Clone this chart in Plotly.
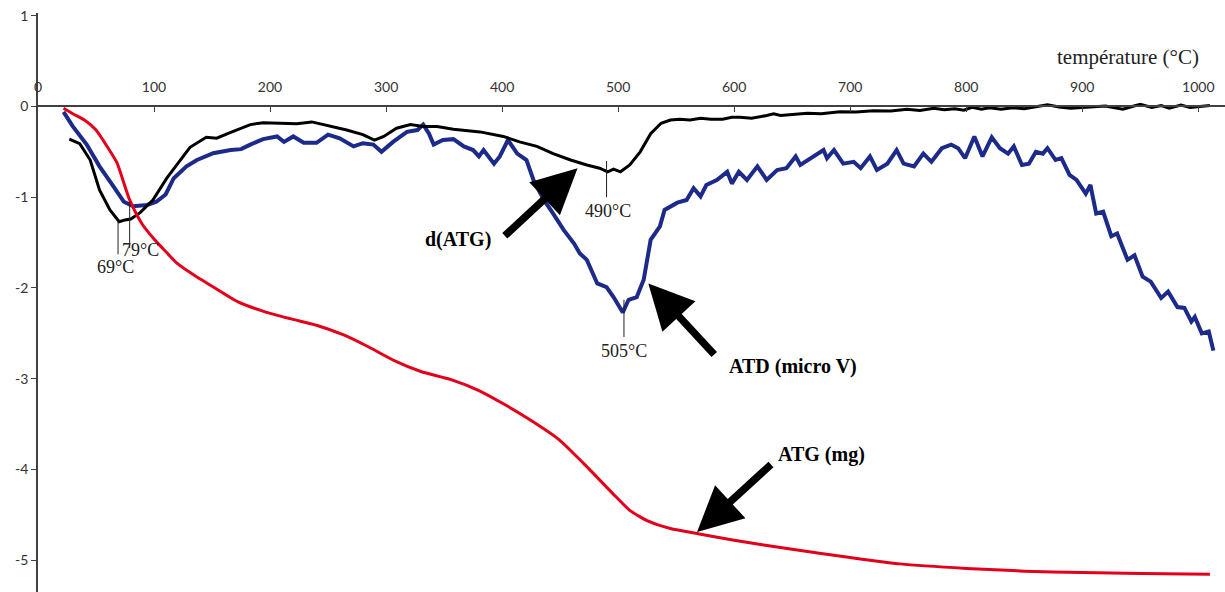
import plotly.graph_objects as go

# Temperature (°C) / signal pairs for each thermal-analysis curve
atg_temp = [22, 30, 40, 50, 60, 68, 79, 90, 100, 108, 120, 137, 150, 172, 195, 218, 240, 264, 285,
            307, 330, 356, 380, 403, 425, 449, 470, 495, 510, 526, 545, 570, 600, 650, 700, 743,
            800, 850, 900, 950, 1010]
atg_mg = [-0.02, -0.08, -0.15, -0.26, -0.45, -0.62, -1.03, -1.3, -1.46, -1.57, -1.73, -1.88, -1.98,
          -2.15, -2.26, -2.34, -2.41, -2.52, -2.65, -2.8, -2.92, -3.01, -3.13, -3.29, -3.46, -3.67,
          -3.93, -4.26, -4.45, -4.57, -4.65, -4.71, -4.78, -4.88, -4.97, -5.04, -5.09, -5.12,
          -5.135, -5.145, -5.155]

datg_temp = [27, 36, 45, 53, 62, 70, 75, 80, 88, 99, 111, 120, 131, 145, 154, 165, 183, 194, 209,
             223, 236, 252, 266, 280, 290, 298, 309, 321, 332, 344, 358, 381, 401, 415, 430, 444,
             459, 473, 484, 491, 496, 502, 510, 519, 528, 537, 545, 553, 562, 571, 580, 590, 598,
             605, 615, 628, 634, 640, 652, 663, 675, 691, 705, 720, 735, 749, 760, 772, 781, 790,
             798, 805, 813, 820, 830, 840, 850, 860, 870, 880, 890, 900, 910, 920, 928, 935, 943,
             950, 960, 968, 975, 985, 993, 1000, 1010]
datg = [-0.36, -0.41, -0.59, -0.92, -1.14, -1.27, -1.25, -1.24, -1.17, -1.03, -0.79, -0.64, -0.45,
        -0.34, -0.35, -0.29, -0.2, -0.18, -0.185, -0.19, -0.17, -0.215, -0.26, -0.31, -0.37, -0.33,
        -0.24, -0.2, -0.22, -0.22, -0.25, -0.28, -0.33, -0.39, -0.44, -0.52, -0.59, -0.645, -0.68,
        -0.72, -0.69, -0.72, -0.645, -0.5, -0.3, -0.185, -0.15, -0.14, -0.15, -0.13, -0.14, -0.14,
        -0.12, -0.12, -0.13, -0.1, -0.08, -0.1, -0.09, -0.075, -0.08, -0.057, -0.06, -0.046,
        -0.05, -0.03, -0.045, -0.02, -0.035, -0.025, -0.04, -0.01, -0.03, -0.015, -0.03, -0.015,
        -0.025, 0.0, 0.02, -0.005, -0.02, -0.01, 0.0, 0.005, -0.015, -0.03, 0.0, 0.025, -0.01,
        0.01, -0.02, 0.015, -0.01, 0.0, 0.01]

atd_temp = [22, 30, 42, 53, 65, 74, 82, 94, 102, 110, 117, 128, 137, 151, 166, 175, 183, 194, 206,
            212, 220, 229, 240, 250, 260, 272, 280, 289, 296, 306, 318, 327, 332, 337, 341, 349,
            358, 367, 375, 380, 384, 393, 398, 405, 413, 421, 427, 436, 444, 453, 462, 467, 473,
            482, 490, 496, 504, 509, 516, 522, 528, 536, 540, 551, 559, 565, 571, 576, 585, 594,
            598, 604, 611, 620, 628, 637, 645, 653, 657, 668, 677, 680, 686, 694, 703, 709, 717,
            723, 732, 740, 746, 755, 763, 770, 779, 787, 793, 799, 807, 814, 822, 829, 836, 841,
            848, 854, 860, 866, 870, 877, 882, 889, 895, 903, 907, 912, 918, 925, 930, 939, 945,
            952, 959, 968, 974, 982, 988, 994, 997, 1003, 1009, 1013]
atd = [-0.06, -0.22, -0.42, -0.66, -0.88, -1.05, -1.1, -1.085, -1.05, -0.97, -0.79, -0.66, -0.59,
       -0.515, -0.48, -0.47, -0.42, -0.36, -0.33, -0.39, -0.33, -0.4, -0.4, -0.31, -0.35, -0.44,
       -0.405, -0.42, -0.5, -0.39, -0.28, -0.26, -0.2, -0.3, -0.42, -0.37, -0.36, -0.44, -0.48,
       -0.55, -0.48, -0.63, -0.55, -0.37, -0.52, -0.59, -0.81, -1.03, -1.18, -1.36, -1.51, -1.62,
       -1.69, -1.95, -1.99, -2.1, -2.27, -2.13, -2.1, -1.91, -1.47, -1.32, -1.14, -1.06, -1.03,
       -0.9, -0.99, -0.865, -0.81, -0.72, -0.85, -0.72, -0.81, -0.66, -0.81, -0.7, -0.68, -0.55,
       -0.645, -0.55, -0.48, -0.57, -0.48, -0.63, -0.61, -0.68, -0.55, -0.7, -0.63, -0.48, -0.63,
       -0.66, -0.52, -0.61, -0.46, -0.42, -0.46, -0.57, -0.33, -0.55, -0.34, -0.46, -0.52, -0.44,
       -0.645, -0.63, -0.5, -0.52, -0.46, -0.59, -0.57, -0.755, -0.81, -0.96, -0.865, -1.18,
       -1.16, -1.43, -1.4, -1.69, -1.64, -1.875, -1.93, -2.11, -2.04, -2.21, -2.22, -2.37, -2.32,
       -2.5, -2.48, -2.69]

# Characteristic peak temperatures: (label, temperature, line top, line bottom, label y)
peaks = [("69°C", 69, -1.27, -1.63, -1.77),
         ("79°C", 79, -1.05, -1.56, -1.58),
         ("490°C", 490, -0.6, -1.0, -1.15),
         ("505°C", 505, -2.13, -2.54, -2.69)]
peak_label_x = [67, 88, 491, 505]

x_ticks = list(range(0, 1001, 100))
y_ticks = list(range(-5, 2))

Y_MIN, Y_MAX = -5.35, 1.03

fig = go.Figure()
fig.add_trace(go.Scatter(x=atd_temp, y=atd, mode="lines",
                         line=dict(color="#1c2a8a", width=4), name="ATD (micro V)"))
fig.add_trace(go.Scatter(x=datg_temp, y=datg, mode="lines",
                         line=dict(color="#000000", width=3), name="d(ATG)"))
fig.add_trace(go.Scatter(x=atg_temp, y=atg_mg, mode="lines",
                         line=dict(color="#e2001a", width=3, shape="spline", smoothing=0.6),
                         name="ATG (mg)"))

label_font = dict(family="Liberation Serif", size=18, color="#222222")
for (txt, t, ytop, ybot, ylab), lx in zip(peaks, peak_label_x):
    fig.add_shape(type="line", x0=t, x1=t, y0=ytop, y1=ybot, xref="x", yref="y",
                  line=dict(color="#222222", width=1))
    fig.add_annotation(x=lx, y=ylab, text=txt, showarrow=False, font=label_font,
                       xanchor="center", yanchor="middle")

bold_font = dict(family="Liberation Serif", size=20, color="#000000")
# Curve labels with their pointing arrows: (text, text x, text y, head x, head y, tail x, tail y)
curve_labels = [("<b>d(ATG)</b>", 362, -1.47, 465, -0.68, 401, -1.44),
                ("<b>ATD (micro V)</b>", 651, -2.87, 526, -1.95, 584, -2.75),
                ("<b>ATG (mg)</b>", 675, -3.84, 568, -4.69, 633, -3.93)]
for txt, tx, ty, hx, hy, ax_, ay_ in curve_labels:
    fig.add_annotation(x=tx, y=ty, text=txt, showarrow=False, font=bold_font,
                       xanchor="center", yanchor="middle")
    fig.add_annotation(x=hx, y=hy, ax=ax_, ay=ay_, axref="x", ayref="y", text="",
                       showarrow=True, arrowhead=2, arrowsize=1.2, arrowwidth=7.5,
                       arrowcolor="#000000")

fig.add_annotation(x=939, y=0.545, text="température (°C)", showarrow=False,
                   font=dict(family="Liberation Serif", size=21, color="#222222"),
                   xanchor="center", yanchor="middle")

zero_pos = (0 - Y_MIN) / (Y_MAX - Y_MIN)

fig.update_layout(
    width=1225, height=592,
    margin=dict(l=38, r=0, t=13, b=0),
    paper_bgcolor="white", plot_bgcolor="white",
    showlegend=False,
    xaxis=dict(range=[0, 1023], tickvals=x_ticks, ticktext=[str(v) for v in x_ticks],
               side="top", anchor="free", position=zero_pos,
               showline=True, linecolor="#404040", linewidth=1.5,
               ticks="inside", ticklen=5, tickcolor="#404040", tickwidth=1,
               ticklabelstandoff=8,
               showgrid=False, zeroline=False,
               tickfont=dict(family="Lato", size=14, color="#333333")),
    yaxis=dict(range=[Y_MIN, Y_MAX], tickvals=y_ticks, ticktext=[str(v) for v in y_ticks],
               showline=True, linecolor="#404040", linewidth=1.5,
               ticks="outside", ticklen=5, tickcolor="#404040", tickwidth=1,
               showgrid=False, zeroline=False,
               tickfont=dict(family="Lato", size=14, color="#333333")),
)

fig.write_html("out.html")
